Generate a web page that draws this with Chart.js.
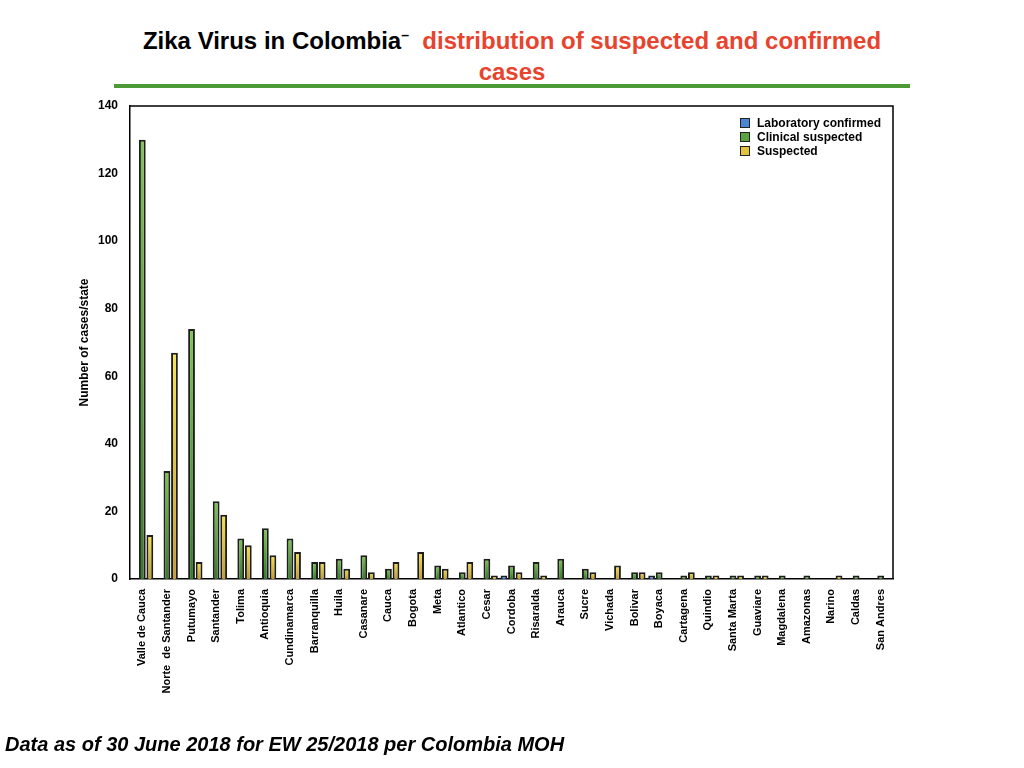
<!DOCTYPE html>
<html>
<head>
<meta charset="utf-8">
<script src="https://cdn.jsdelivr.net/npm/chart.js@4/dist/chart.umd.min.js"></script>
<style>
  body { margin: 0; width: 1024px; height: 768px; background: #fff; overflow: hidden; position: relative;
         font-family: "Liberation Sans", Arial, sans-serif; }
  #title { position: absolute; left: 112px; top: 20px; width: 800px; text-align: center;
           font-size: 24px; font-weight: bold; line-height: 31px; color: #000; }
  #title .red { color: #e8432d; }
  #rule { position: absolute; left: 114px; top: 84px; width: 796px; height: 4px; background: #4b9a35; }
  #wrap { position: absolute; left: 0; top: 0; width: 1024px; height: 768px; }
  #legend { position: absolute; left: 740px; top: 116px; font-size: 12px; font-weight: bold; line-height: 14px; }
  #legend div { display: flex; align-items: center; }
  #legend span.box { display: inline-block; width: 8px; height: 8px; border: 1px solid #222; margin-right: 7px; }
  #footer { position: absolute; left: 5px; top: 733px; font-size: 20px; font-weight: bold; font-style: italic; }
</style>
</head>
<body>
<div id="title">Zika Virus in Colombia<sup style="font-size:14px">–</sup>&nbsp; <span class="red">distribution of suspected and confirmed<br>cases</span></div>
<div id="rule"></div>
<div id="wrap"><canvas id="zikaChart" width="1024" height="768"></canvas></div>
<div id="legend">
  <div><span class="box" style="background:#4a86d4"></span>Laboratory confirmed</div>
  <div><span class="box" style="background:#5aa341"></span>Clinical suspected</div>
  <div><span class="box" style="background:#e2c340"></span>Suspected</div>
</div>
<div id="footer">Data as of 30 June 2018 for EW 25/2018 per Colombia MOH</div>

<script>
// =========================
// DATA
// =========================

const states = ["Valle de Cauca", "Norte  de Santander", "Putumayo", "Santander", "Tolima", "Antioquia",
    "Cundinamarca", "Barranquilla", "Huila", "Casanare", "Cauca", "Bogota", "Meta", "Atlantico", "Cesar",
    "Cordoba", "Risaralda", "Arauca", "Sucre", "Vichada", "Bolivar", "Boyaca", "Cartagena", "Quindio",
    "Santa Marta", "Guaviare", "Magdalena", "Amazonas", "Narino", "Caldas", "San Andres"];

const labConfirmed = [0, 0, 0, 0, 0, 0, 0, 0, 0, 0, 0, 0, 0, 0, 0, 1, 0, 0, 0, 0, 0, 1, 0, 0, 0, 0, 0, 0, 0, 0, 0];
const clinicalSuspected = [130, 32, 74, 23, 12, 15, 12, 5, 6, 7, 3, 0, 4, 2, 6, 4, 5, 6, 3, 0, 2, 2, 1, 1, 1, 1, 1, 1, 0, 1, 1];
const suspected = [13, 67, 5, 19, 10, 7, 8, 5, 3, 2, 5, 8, 3, 5, 1, 2, 1, 0, 2, 4, 2, 0, 2, 1, 1, 1, 0, 0, 1, 0, 0];

const yTicks = [0, 20, 40, 60, 80, 100, 120, 140];

// vertical gradient per bar (light top -> dark bottom)
function barFill(top, bottom) {
    return function (ctx) {
        const chart = ctx.chart;
        const y = chart.scales.y;
        if (!y || ctx.raw == null) return bottom;
        const yTop = y.getPixelForValue(ctx.raw);
        const yBase = y.getPixelForValue(0);
        if (!isFinite(yTop) || yBase - yTop < 1) return bottom;
        const g = chart.ctx.createLinearGradient(0, yTop, 0, yBase);
        g.addColorStop(0, top);
        g.addColorStop(1, bottom);
        return g;
    };
}

// top + right frame of the plot
const frame = {
    id: "frame",
    afterDraw(chart) {
        const a = chart.chartArea;
        const c = chart.ctx;
        c.save();
        c.strokeStyle = "#000";
        c.lineWidth = 1.5;
        c.beginPath();
        c.moveTo(a.left, a.top);
        c.lineTo(a.right, a.top);
        c.lineTo(a.right, a.bottom);
        c.stroke();
        c.restore();
    }
};

const zika = document.getElementById("zikaChart");

new Chart(zika, {
    type: "bar",
    data: {
        labels: states,
        datasets: [{
            label: "Laboratory confirmed",
            data: labConfirmed,
            backgroundColor: barFill("#6aa6ec", "#3a70bd"),
            borderColor: "#1e1e1e",
            borderWidth: 2
        }, {
            label: "Clinical suspected",
            data: clinicalSuspected,
            backgroundColor: barFill("#80c455", "#387a2c"),
            borderColor: "#1e1e1e",
            borderWidth: 2
        }, {
            label: "Suspected",
            data: suspected,
            backgroundColor: barFill("#f8e34c", "#bf9c38"),
            borderColor: "#1e1e1e",
            borderWidth: 2
        }]
    },
    options: {
        responsive: false,
        animation: false,
        layout: {
            padding: { left: 77, right: 131, top: 106, bottom: 0 }
        },
        datasets: {
            bar: { categoryPercentage: 0.92, barPercentage: 0.9 }
        },
        plugins: {
            legend: { display: false },
            tooltip: { enabled: false }
        },
        scales: {
            x: {
                grid: { display: false },
                border: { color: "#000", width: 1.5 },
                ticks: {
                    color: "#000",
                    autoSkip: false,
                    minRotation: 90,
                    maxRotation: 90,
                    padding: 2,
                    font: { family: "Liberation Sans", size: 11, weight: "bold" }
                },
                afterFit(scale) { scale.height = 189; }
            },
            y: {
                min: 0,
                max: 140,
                grid: { display: false },
                border: { color: "#000", width: 1.5 },
                afterBuildTicks(scale) { scale.ticks = yTicks.map(v => ({ value: v })); },
                ticks: {
                    color: "#000",
                    padding: 4,
                    font: { family: "Liberation Sans", size: 12, weight: "bold" }
                },
                title: {
                    display: true,
                    text: "Number of cases/state",
                    color: "#000",
                    padding: 0,
                    font: { family: "Liberation Sans", size: 12, weight: "bold" }
                },
                afterFit(scale) { scale.width = 53; }
            }
        }
    },
    plugins: [frame]
});
</script>
</body>
</html>
